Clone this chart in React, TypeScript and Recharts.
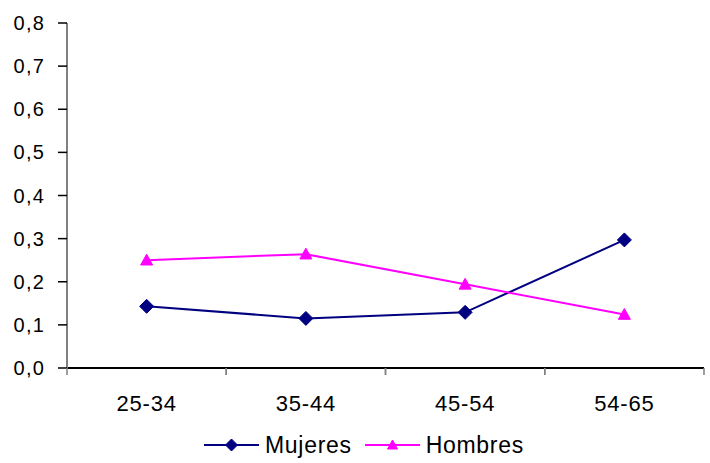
import React from "react";
import { LineChart, Line, XAxis, YAxis, Legend } from "recharts";

const categories = ["25-34", "35-44", "45-54", "54-65"];
const mujeres = [0.143, 0.115, 0.129, 0.297];
const hombres = [0.25, 0.264, 0.194, 0.124];
const yTicks = [0, 0.1, 0.2, 0.3, 0.4, 0.5, 0.6, 0.7, 0.8];

const data = categories.map((c, i) => ({ cat: c, Mujeres: mujeres[i], Hombres: hombres[i] }));

const NAVY = "#000080";
const MAGENTA = "#FF00FF";
const FONT = "'Liberation Sans', Arial, sans-serif";

const Diamond = ({ cx, cy, fill, r = 7 }: any) =>
  cx == null || cy == null ? null : (
    <polygon points={`${cx},${cy - r} ${cx + r},${cy} ${cx},${cy + r} ${cx - r},${cy}`} fill={fill} stroke={fill} strokeWidth={1} />
  );

const Triangle = ({ cx, cy, fill, r = 6 }: any) =>
  cx == null || cy == null ? null : (
    <polygon points={`${cx},${cy - r} ${cx + r},${cy + r * 0.8} ${cx - r},${cy + r * 0.8}`} fill={fill} stroke={fill} strokeWidth={1} />
  );

const XTick = (props: any) => {
  const { x, y, payload } = props;
  const off = payload && payload.offset ? payload.offset : 0;
  return (
    <g>
      <line x1={x - off} x2={x - off} y1={y} y2={y + 7} stroke="#808080" strokeWidth={1.5} />
      <line x1={x + off} x2={x + off} y1={y} y2={y + 7} stroke="#808080" strokeWidth={1.5} />
      <text x={x} y={y + 27} dy="0.71em" textAnchor="middle" fontSize={22} letterSpacing={0.8} fill="#000" fontFamily={FONT}>
        {payload.value}
      </text>
    </g>
  );
};

const fmt = (v: number) => v.toFixed(1).replace(".", ",");

const LegendContent = () => (
  <div style={{ height: 30, display: "flex", alignItems: "center", paddingLeft: 204, fontFamily: FONT, fontSize: 23, letterSpacing: 0.7, color: "#000" }}>
    <svg width={55} height={30}>
      <line x1={0} x2={55} y1={15} y2={15} stroke={NAVY} strokeWidth={2} />
      <Diamond cx={27.5} cy={15} fill={NAVY} r={6} />
    </svg>
    <span style={{ marginLeft: 6, marginRight: 13 }}>Mujeres</span>
    <svg width={55} height={30}>
      <line x1={0} x2={55} y1={15} y2={15} stroke={MAGENTA} strokeWidth={2} />
      <Triangle cx={27.5} cy={15} fill={MAGENTA} r={5} />
    </svg>
    <span style={{ marginLeft: 6 }}>Hombres</span>
  </div>
);

export default function App() {
  return (
    <div style={{ position: "absolute", left: 0, top: 0, background: "#fff" }}>
      <LineChart width={710} height={463} data={data} margin={{ top: 23, right: 6, left: 0, bottom: 3 }}>
        <XAxis
          dataKey="cat"
          scale="band"
          height={62}
          axisLine={{ stroke: "#000", strokeWidth: 2 }}
          tickLine={false}
          tickSize={0}
          tickMargin={0}
          tick={<XTick />}
          interval={0}
        />
        <YAxis
          width={67}
          domain={[0, 0.8]}
          ticks={yTicks}
          tickFormatter={fmt}
          axisLine={{ stroke: "#808080", strokeWidth: 2 }}
          tickLine={{ stroke: "#000", strokeWidth: 1.5 }}
          tickSize={9}
          tickMargin={13}
          tick={{ fontSize: 20, fill: "#000", fontFamily: FONT, letterSpacing: 1.2 }}
          interval={0}
        />
        <Legend verticalAlign="bottom" height={30} content={<LegendContent />} />
        <Line dataKey="Mujeres" stroke={NAVY} strokeWidth={2} isAnimationActive={false} dot={(p: any) => <Diamond key={p.index} cx={p.cx} cy={p.cy} fill={NAVY} />} activeDot={false} />
        <Line dataKey="Hombres" stroke={MAGENTA} strokeWidth={2} isAnimationActive={false} dot={(p: any) => <Triangle key={p.index} cx={p.cx} cy={p.cy} fill={MAGENTA} />} activeDot={false} />
      </LineChart>
    </div>
  );
}
